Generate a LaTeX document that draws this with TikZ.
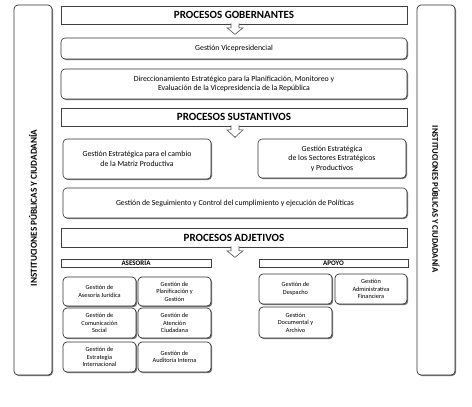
\documentclass[tikz,border=0pt]{standalone}
\usepackage{fontspec}
\setmainfont{Carlito}
\usetikzlibrary{shadows,calc}
\tikzset{
  hdr/.style={draw=black!75, line width=0.7pt, fill=white, inner sep=1pt,
    drop shadow={shadow xshift=1.4pt, shadow yshift=-1.4pt, fill=black!65, opacity=1},
    font=\bfseries\fontsize{11}{12}\selectfont},
  subhdr/.style={hdr, font=\bfseries\fontsize{7}{7}\selectfont,
    drop shadow={shadow xshift=0.9pt, shadow yshift=-0.9pt, fill=black!60, opacity=1}},
  wide/.style={draw=black!80, line width=0.6pt, fill=white, rounded corners=4pt, inner sep=1pt,
    drop shadow={shadow xshift=1pt, shadow yshift=-1pt, fill=black!55, opacity=1},
    align=center, font=\fontsize{7.8}{9.5}\selectfont},
  small/.style={draw=black!80, line width=0.7pt, fill=white, rounded corners=4pt, inner sep=1pt,
    drop shadow={shadow xshift=1.2pt, shadow yshift=-1.2pt, fill=black!55, opacity=1},
    align=center, font=\fontsize{6.3}{7.6}\selectfont},
  side/.style={draw=black!80, line width=0.7pt, fill=white, rounded corners=4pt,
    drop shadow={shadow xshift=1pt, shadow yshift=-1pt, fill=black!55, opacity=1}},
  downarrow/.style={draw=black!70, line width=0.6pt, fill=white}
}
\newcommand{\blockarrow}[2]{% anchor coordinate, length
  \path[downarrow] ($(#1)+(-4,-1)$) -- ($(#1)+(-4,3.5)$) -- ($(#1)+(-8,3.5)$) -- ($(#1)+(0,#2)$)
    -- ($(#1)+(8,3.5)$) -- ($(#1)+(4,3.5)$) -- ($(#1)+(4,-1)$);
}
\begin{document}
\begin{tikzpicture}[x=1pt,y=-1pt]
\useasboundingbox[fill=white] (0,0) rectangle (472,407);

% side bars
\node[side, minimum width=38pt, minimum height=370pt] (lbar) at (33,190) {};
\node[rotate=90, font=\bfseries\fontsize{9.2}{10}\selectfont] (ltxt) at (33,208) {INSTITUCIONES PÚBLICAS Y CIUDADANÍA};
\node[side, minimum width=38pt, minimum height=370pt] (rbar) at (436,190) {};
\node[rotate=-90, font=\bfseries\fontsize{8.6}{10}\selectfont] (rtxt) at (436,199) {INSTITUCIONES PÚBLICAS Y CIUDADANÍA};

% gobernantes
\node[hdr, minimum width=346pt, minimum height=18pt] (gob) at (234,15) {PROCESOS GOBERNANTES};
\node[wide, minimum width=346pt, minimum height=21pt] (vice) at (234,48.5) {Gestión Vicepresidencial};
\node[wide, minimum width=346pt, minimum height=30pt] (dir) at (234,84) {Direccionamiento Estratégico para la Planificación, Monitoreo y\\ Evaluación de la Vicepresidencia de la República};
\coordinate (ga) at ($(gob.south)+(1,0)$);
\blockarrow{ga}{10}

% sustantivos
\node[hdr, minimum width=346pt, minimum height=18pt] (sus) at (234,117) {PROCESOS SUSTANTIVOS};
\node[wide, minimum width=148pt, minimum height=40pt] (mat) at (137,159) {Gestión Estratégica para el cambio\\ de la Matriz Productiva};
\node[wide, minimum width=148pt, minimum height=39pt] (sec) at (332,158.5) {Gestión Estratégica\\ de los Sectores Estratégicos\\ y Productivos};
\node[wide, minimum width=344pt, minimum height=30pt] (seg) at (235,203) {Gestión de Seguimiento y Control del cumplimiento y ejecución de Políticas};
\coordinate (sa) at ($(sus.south)+(1,0)$);
\blockarrow{sa}{11}

% adjetivos
\node[hdr, minimum width=346pt, minimum height=19pt] (adj) at (234,237.5) {PROCESOS ADJETIVOS};
\coordinate (aa) at ($(adj.south)+(1,0)$);
\blockarrow{aa}{10}

\node[subhdr, minimum width=150pt, minimum height=8pt, inner sep=0pt] (ases) at (136,263) {ASESORÍA};
\node[subhdr, minimum width=149pt, minimum height=8pt, inner sep=0pt] (apoyo) at (333.5,263) {APOYO};

% asesoria boxes
\node[small, minimum width=73pt, minimum height=29pt] (aj) at (99.5,291.5) {Gestión de\\ Asesoría Jurídica};
\node[small, minimum width=73pt, minimum height=29pt] (pl) at (174.5,291.5) {Gestión de\\ Planificación y\\ Gestión};
\node[small, minimum width=73pt, minimum height=30pt] (cs) at (99.5,323) {Gestión de\\ Comunicación\\ Social};
\node[small, minimum width=73pt, minimum height=30pt] (ac) at (174.5,323) {Gestión de\\ Atención\\ Ciudadana};
\node[small, minimum width=73pt, minimum height=30pt] (ei) at (99.5,357) {Gestión de\\ Estrategia\\ Internacional};
\node[small, minimum width=73pt, minimum height=30pt] (ai) at (174.5,357) {Gestión de\\ Auditoría Interna};

% apoyo boxes
\node[small, minimum width=73pt, minimum height=30pt] (de) at (295.5,289) {Gestión de\\ Despacho};
\node[small, minimum width=72pt, minimum height=30pt] (af) at (371,289) {Gestión\\ Administrativa\\ Financiera};
\node[small, minimum width=73pt, minimum height=31pt] (da) at (295.5,322.5) {Gestión\\ Documental y\\ Archivo};
\end{tikzpicture}
\end{document}
